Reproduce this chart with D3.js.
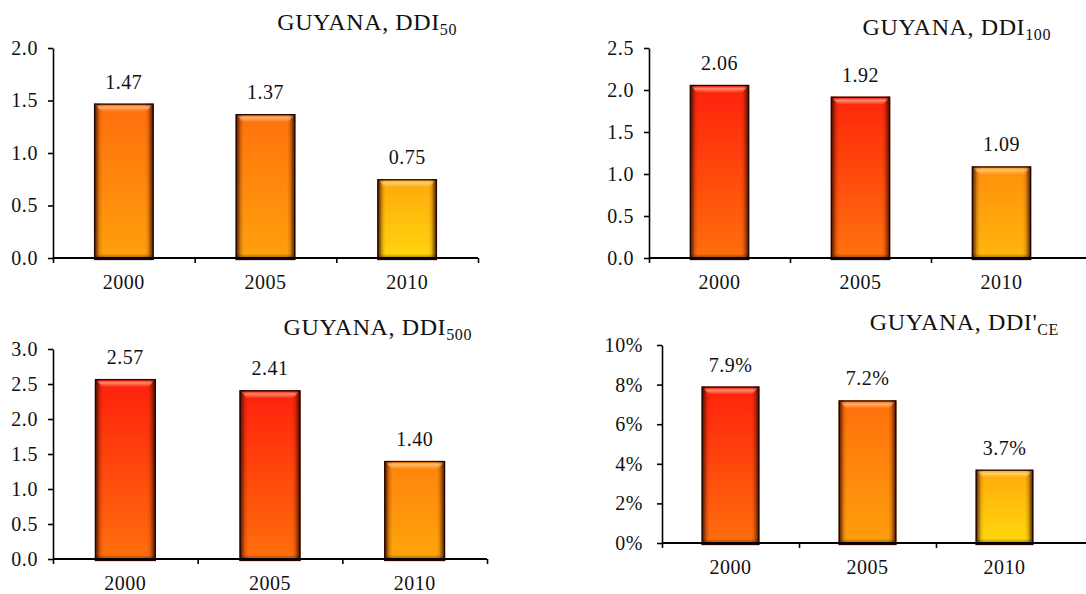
<!DOCTYPE html>
<html>
<head>
<meta charset="utf-8">
<script src="https://cdn.jsdelivr.net/npm/d3@7"></script>
<style>
  html, body { margin: 0; padding: 0; background: #fff; }
  svg { display: block; }
</style>
</head>
<body>
<svg id="chart" width="1086" height="594"></svg>
<script>
// Survey years shared by every panel
const years = ["2000", "2005", "2010"];

// Indicator values per year
const ddi50  = [1.47, 1.37, 0.75];
const ddi100 = [2.06, 1.92, 1.09];
const ddi500 = [2.57, 2.41, 1.40];
const ddiCE  = [0.079, 0.072, 0.037];

// Y-axis tick values
const ticks50  = [0, 0.5, 1.0, 1.5, 2.0];
const ticks100 = [0, 0.5, 1.0, 1.5, 2.0, 2.5];
const ticks500 = [0, 0.5, 1.0, 1.5, 2.0, 2.5, 3.0];
const ticksCE  = [0, 0.02, 0.04, 0.06, 0.08, 0.10];

// Panel titles: main text + subscript
const titles = [
  ["GUYANA, DDI", "50"],
  ["GUYANA, DDI", "100"],
  ["GUYANA, DDI", "500"],
  ["GUYANA, DDI'", "CE"]
];

const SERIF = '"Liberation Serif"';

const svg = d3.select("#chart");
const defs = svg.append("defs");

// Bevel overlays shared by all bars
const side = defs.append("linearGradient").attr("id", "sideShade")
  .attr("x1", 0).attr("x2", 1).attr("y1", 0).attr("y2", 0);
[[0, 0.95], [0.04, 0.6], [0.09, 0.15], [0.14, 0], [0.86, 0], [0.91, 0.15], [0.96, 0.6], [1, 0.95]]
  .forEach(([o, a]) =>
    side.append("stop").attr("offset", o).attr("stop-color", "#3a0c00").attr("stop-opacity", a));

const bottomShade = defs.append("linearGradient").attr("id", "bottomShade")
  .attr("x1", 0).attr("x2", 0).attr("y1", 0).attr("y2", 1);
[[0, 0], [0.55, 0], [1, 0.65]].forEach(([o, a]) =>
  bottomShade.append("stop").attr("offset", o).attr("stop-color", "#3a0c00").attr("stop-opacity", a));

const hiGrad = defs.append("linearGradient").attr("id", "hilite")
  .attr("x1", 0).attr("x2", 0).attr("y1", 0).attr("y2", 1);
[[0, 0.1], [0.35, 0.5], [1, 0]].forEach(([o, a]) =>
  hiGrad.append("stop").attr("offset", o).attr("stop-color", "#fff2c8").attr("stop-opacity", a));

// Fill colours driven by the bar's share of the axis maximum
const topColor = d3.scaleLinear()
  .domain([0.37, 0.47, 0.74, 0.77])
  .range(["#ffaa0c", "#ff820c", "#ff6e0c", "#ff200c"])
  .clamp(true);
const bottomColor = d3.scaleLinear()
  .domain([0.37, 0.47, 0.74, 0.77])
  .range(["#ffda0c", "#ffa40c", "#ffa00c", "#ff700c"])
  .clamp(true);

let gradId = 0;

function styleText(sel, size, spacing) {
  sel.style("font-family", SERIF).style("font-size", size + "px").style("fill", "#111")
    .style("letter-spacing", (spacing || 0) + "px");
}

function drawPanel(opts) {
  const { values, ticks, title, left, right, base, top, yMax,
          tickFmt, valFmt, tickPad, lastTick, axisEnd, titleX, titleY } = opts;

  const g = svg.append("g");

  const x = d3.scaleBand().domain(years).range([left, right]).paddingInner(0.58).paddingOuter(0.29);
  const y = d3.scaleLinear().domain([0, yMax]).range([base, top]);
  const idx = d3.scaleLinear().domain([0, years.length]).range([left, right]);

  // bars
  values.forEach((v, i) => {
    const id = "barGrad" + (gradId++);
    const t = v / yMax;
    const lg = defs.append("linearGradient").attr("id", id)
      .attr("x1", 0).attr("x2", 0).attr("y1", 0).attr("y2", 1);
    lg.append("stop").attr("offset", 0).attr("stop-color", topColor(t));
    lg.append("stop").attr("offset", 1).attr("stop-color", bottomColor(t));

    const bx = x(years[i]);
    const bw = x.bandwidth();
    const by = y(v);
    const bh = y(0) - by + 2;

    const bar = g.append("g");
    bar.append("rect").attr("x", bx).attr("y", by).attr("width", bw).attr("height", bh)
      .attr("fill", `url(#${id})`);
    bar.append("rect").attr("x", bx).attr("y", by).attr("width", bw).attr("height", bh)
      .attr("fill", "url(#sideShade)");
    bar.append("rect").attr("x", bx).attr("y", Math.max(by, y(0) - 12)).attr("width", bw)
      .attr("height", Math.min(bh, 14)).attr("fill", "url(#bottomShade)");
    // top bevel highlight
    bar.append("path")
      .attr("d", `M${bx + 2},${by + 1.5} L${bx + bw - 2},${by + 1.5} L${bx + bw - 7},${by + 8} L${bx + 7},${by + 8} Z`)
      .attr("fill", "url(#hilite)");
    bar.append("rect").attr("x", bx + 0.5).attr("y", by + 0.5).attr("width", bw - 1).attr("height", bh - 1)
      .attr("fill", "none").attr("stroke", "#240600").attr("stroke-width", 1.3);

    g.append("text")
      .attr("x", bx + bw / 2).attr("y", by - 15)
      .attr("text-anchor", "middle")
      .call(styleText, 20, 0.5)
      .text(valFmt(v));
  });

  // y axis
  const ya = g.append("g").attr("transform", `translate(${left},0)`)
    .call(d3.axisLeft(y).tickValues(ticks).tickFormat(tickFmt).tickSize(5).tickSizeOuter(0).tickPadding(tickPad));
  ya.selectAll("text").call(styleText, 20, 0.6);
  ya.selectAll("line,path").attr("stroke", "#000").attr("stroke-width", 1.6);

  // x axis: boundary ticks
  const boundaries = d3.range(0, lastTick + 1);
  const xb = g.append("g").attr("transform", `translate(0,${base})`)
    .call(d3.axisBottom(idx).tickValues(boundaries).tickFormat("").tickSize(5).tickSizeOuter(0));
  xb.select("path").remove();
  xb.selectAll("line").attr("stroke", "#000").attr("stroke-width", 1.6);
  g.append("line").attr("x1", left).attr("x2", axisEnd).attr("y1", base).attr("y2", base)
    .attr("stroke", "#000").attr("stroke-width", 2);

  // x axis: category labels
  const xl = g.append("g").attr("transform", `translate(0,${base})`)
    .call(d3.axisBottom(x).tickSize(0).tickPadding(17));
  xl.select("path").remove();
  xl.selectAll("text").call(styleText, 20, 0.5);

  // title
  const tt = g.append("text").attr("x", titleX).attr("y", titleY)
    .attr("text-anchor", "end").call(styleText, 24, 0.6);
  tt.append("tspan").text(title[0]);
  tt.append("tspan").style("font-size", "16px").attr("dy", 5).text(title[1]);
}

const fmt1 = d3.format(".1f");
const fmt2 = d3.format(".2f");

drawPanel({ values: ddi50, ticks: ticks50, title: titles[0], yMax: 2.0,
  left: 53, right: 478, base: 258, top: 48, tickFmt: fmt1, valFmt: fmt2, tickPad: 10,
  lastTick: 3, axisEnd: 478, titleX: 457, titleY: 30 });

drawPanel({ values: ddi100, ticks: ticks100, title: titles[1], yMax: 2.5,
  left: 649, right: 1072, base: 258, top: 48, tickFmt: fmt1, valFmt: fmt2, tickPad: 10,
  lastTick: 2, axisEnd: 1086, titleX: 1051, titleY: 35 });

drawPanel({ values: ddi500, ticks: ticks500, title: titles[2], yMax: 3.0,
  left: 53, right: 487, base: 559, top: 349, tickFmt: fmt1, valFmt: fmt2, tickPad: 10,
  lastTick: 3, axisEnd: 487, titleX: 472, titleY: 335 });

drawPanel({ values: ddiCE, ticks: ticksCE, title: titles[3], yMax: 0.10,
  left: 662, right: 1073, base: 543, top: 345, tickFmt: d3.format(".0%"), valFmt: d3.format(".1%"), tickPad: 14,
  lastTick: 2, axisEnd: 1086, titleX: 1059, titleY: 330 });
</script>
</body>
</html>
